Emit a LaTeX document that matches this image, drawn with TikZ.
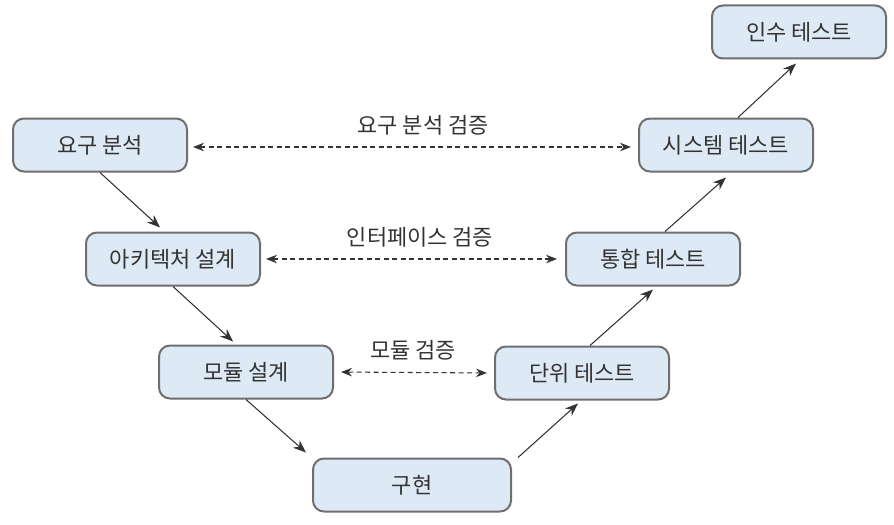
\documentclass[tikz,border=0pt]{standalone}
\usepackage{fontspec}
\setmainfont{Noto Sans CJK KR}
\usetikzlibrary{arrows.meta}

\definecolor{boxfill}{HTML}{DDEAF6}
\definecolor{boxline}{HTML}{6E6E6E}
\definecolor{ink}{HTML}{333333}

\begin{document}
\begin{tikzpicture}[
    box/.style={draw=boxline,fill=boxfill,line width=0.04cm,rounded corners=0.22cm,
        minimum width=3.48cm,minimum height=1.06cm,text=ink,font=\fontsize{12.5}{14}\selectfont},
    arrow/.style={-{Stealth[length=0.26cm,width=0.2cm]}, line width=0.6pt, ink},
    check/.style={{Stealth[length=0.22cm,width=0.17cm]}-{Stealth[length=0.22cm,width=0.17cm]},
        dash pattern=on 0.1cm off 0.07cm, line width=0.6pt, ink},
    lbl/.style={text=ink,font=\fontsize{12.5}{14}\selectfont}
]
\useasboundingbox (0,0) rectangle (17.88,-10.48);

\node[box] (req) at (2.00,-2.90) {요구 분석};
\node[box] (arch) at (3.46,-5.18) {아키텍처 설계};
\node[box] (mod) at (4.92,-7.44) {모듈 설계};
\node[box,minimum width=3.96cm] (impl) at (8.24,-9.70) {구현};
\node[box] (unit) at (11.64,-7.46) {단위 테스트};
\node[box] (integ) at (13.06,-5.18) {통합 테스트};
\node[box] (sys) at (14.52,-2.90) {시스템 테스트};
\node[box] (accept) at (15.98,-0.64) {인수 테스트};

% left leg down, right leg up
\draw[arrow] (req.south) -- ([xshift=-0.26cm,yshift=0.08cm]arch.north);
\draw[arrow] (arch.south) -- ([xshift=-0.26cm,yshift=0.06cm]mod.north);
\draw[arrow] (mod.south) -- ([xshift=-0.12cm,yshift=0.1cm]impl.north west);
\draw[arrow] ([xshift=0.12cm]impl.north east) -- ([xshift=-0.08cm,yshift=-0.06cm]unit.south);
\draw[arrow] ([xshift=0.16cm]unit.north) -- ([yshift=-0.06cm]integ.south);
\draw[arrow] ([xshift=0.24cm]integ.north) -- ([yshift=-0.1cm]sys.south);
\draw[arrow] ([xshift=0.24cm]sys.north) -- ([xshift=-0.06cm,yshift=-0.08cm]accept.south);

% verification links
\draw[check,shorten <=0.1cm,shorten >=0.14cm] ([yshift=-0.04cm]req.east) -- ([yshift=-0.04cm]sys.west);
\draw[check,shorten <=0.1cm,shorten >=0.16cm] (arch.east) -- (integ.west);
\draw[check,shorten <=0.14cm,shorten >=0.14cm] (mod.east) -- (unit.west);

\node[lbl] (l1) at (8.46,-2.50) {요구 분석 검증};
\node[lbl] (l2) at (8.40,-4.74) {인터페이스 검증};
\node[lbl] (l3) at (8.26,-7.00) {모듈 검증};

\end{tikzpicture}
\end{document}
